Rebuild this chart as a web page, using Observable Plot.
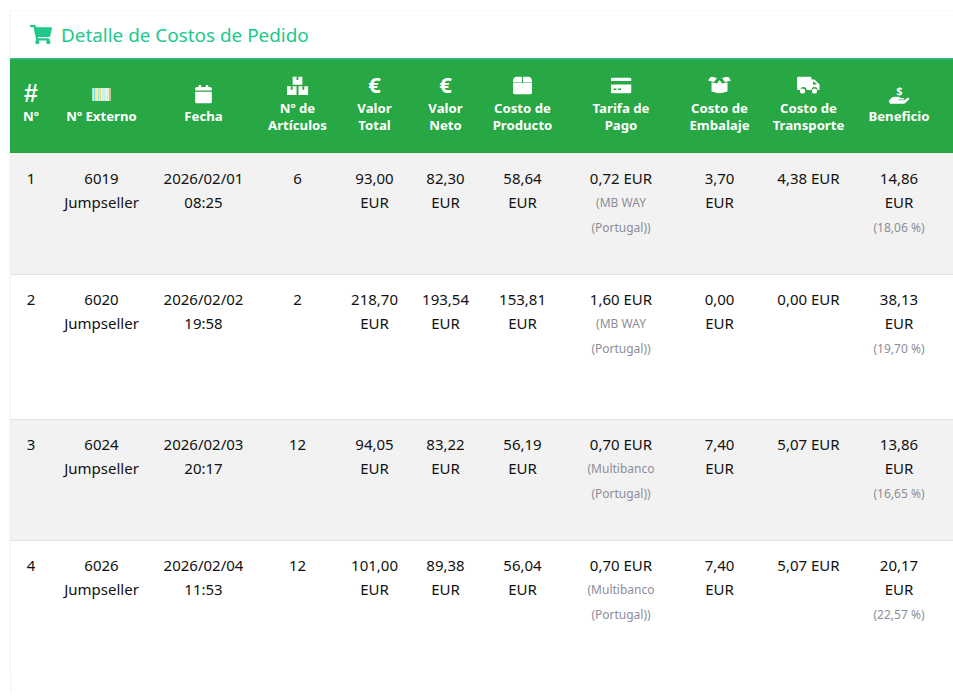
<!DOCTYPE html>
<html><head><meta charset="utf-8">
<script src="https://cdn.jsdelivr.net/npm/d3@7"></script>
<script src="https://cdn.jsdelivr.net/npm/@observablehq/plot@0.6"></script>
<style>html,body{margin:0;padding:0;background:#fff}svg{display:block}</style>
</head><body><div id="chart"></div>
<script>
const title = "Detalle de Costos de Pedido";
const headers = [["Nº"],["Nº Externo"],["Fecha"],["Nº de","Artículos"],["Valor","Total"],["Valor","Neto"],["Costo de","Producto"],["Tarifa de","Pago"],["Costo de","Embalaje"],["Costo de","Transporte"],["Beneficio"]];
const rowNumbers = ["1","2","3","4"];
const externalNos = [["6019","Jumpseller"],["6020","Jumpseller"],["6024","Jumpseller"],["6026","Jumpseller"]];
const dates = [["2026/02/01","08:25"],["2026/02/02","19:58"],["2026/02/03","20:17"],["2026/02/04","11:53"]];
const articles = ["6","2","12","12"];
const totals = ["93,00","218,70","94,05","101,00"];
const nets = ["82,30","193,54","83,22","89,38"];
const products = ["58,64","153,81","56,19","56,04"];
const fees = ["0,72 EUR","1,60 EUR","0,70 EUR","0,70 EUR"];
const feeMethods = [["(MB WAY","(Portugal))"],["(MB WAY","(Portugal))"],["(Multibanco","(Portugal))"],["(Multibanco","(Portugal))"]];
const packing = ["3,70","0,00","7,40","7,40"];
const shipping = ["4,38 EUR","0,00 EUR","5,07 EUR","5,07 EUR"];
const profits = ["14,86","38,13","13,86","20,17"];
const margins = ["(18,06 %)","(19,70 %)","(16,65 %)","(22,57 %)"];

const font = '"Noto Sans", sans-serif';
const svgUri = (vb, body) => "data:image/svg+xml," + encodeURIComponent(`<svg xmlns="http://www.w3.org/2000/svg" viewBox="${vb}">${body}</svg>`);
const cartPath = "M528.12 301.319l47.273-208C578.806 78.301 567.391 64 551.99 64H159.208l-9.166-44.81C147.758 8.021 137.93 0 126.529 0H24C10.745 0 0 10.745 0 24v16c0 13.255 10.745 24 24 24h69.883l70.248 343.435C147.325 417.1 136 435.222 136 456c0 30.928 25.072 56 56 56s56-25.072 56-56c0-15.674-6.447-29.835-16.824-40h209.647C430.447 426.165 424 440.326 424 456c0 30.928 25.072 56 56 56s56-25.072 56-56c0-22.172-12.888-41.332-31.579-50.405l5.517-24.276c3.413-15.018-8.002-29.319-23.403-29.319H218.117l-6.545-32h293.145c11.206 0 20.92-7.754 23.403-18.681z";
const calendarPath = "M12 192h424c6.6 0 12 5.4 12 12v260c0 26.5-21.5 48-48 48H48c-26.5 0-48-21.5-48-48V204c0-6.6 5.4-12 12-12zm436-44v-36c0-26.5-21.5-48-48-48h-48V12c0-6.6-5.4-12-12-12h-40c-6.6 0-12 5.4-12 12v52H160V12c0-6.6-5.4-12-12-12h-40c-6.6 0-12 5.4-12 12v52H48C21.5 64 0 85.5 0 112v36c0 6.6 5.4 12 12 12h424c6.6 0 12-5.4 12-12z";
const barColors = ["#a8f0c0","#66e0e0","#ffe88a","#8fe6f0","#f6d860","#c8f4f4","#a0e8f0","#d8f4d0","#ffe0a0","#f0b060"];
const barcodeBody = `<rect width="20" height="14" fill="#fff"/>` + barColors.map((c,i)=>`<rect x="${i*2}" y="0" width="1.5" height="14" fill="${c}"/>`).join("");
const icons = [
  {col:1,row:0,w:18.5,h:13.5,top:28.8,src:svgUri("0 0 20 14",barcodeBody)},
  {col:2,row:0,w:17,h:19,top:25.5,src:svgUri("0 0 448 512",`<path fill="#fff" d="${calendarPath}"/>`)},
  {col:3,row:0,w:22,h:18.5,top:17.5,src:svgUri("0 0 22 19",`<path fill="#fff" d="M6 0h10v8.5H6zM0 10h10v9H0zM12 10h10v9H12z"/><path fill="#28a745" d="M10 0h2v3.5h-2zM4 10h2v3.5H4zM16 10h2v3.5h-2z"/>`)},
  {col:6,row:0,w:19,h:18,top:17.5,src:svgUri("0 0 19 18",`<path fill="#fff" d="M3 0h6v6H0V3.4Q0.8 1 3 0zM10 0H16q2.2 1 3 3.4V6h-9zM0 6.6h19V16q0 2-2 2H2q-2 0-2-2z"/>`)},
  {col:7,row:0,w:21,h:16,top:18.5,src:svgUri("0 0 21 16",`<path fill="#fff" d="M2 0h17q2 0 2 2v1.5H0V2q0-2 2-2zM0 7h21v7q0 2-2 2H2q-2 0-2-2z"/><path fill="#28a745" d="M3 11h3v1.5H3zM7.5 11h3v1.5h-3z"/>`)},
  {col:8,row:0,w:23,h:17,top:17.5,src:svgUri("0 0 23 17",`<path fill="#fff" d="M3 0l6 1.5-3 4L0 4zM20 0l-6 1.5 3 4 6-1.5zM11.5 3.5l-2.5 3.5-5.5-1.2V15l8 2 8-2V5.8L14 7z"/>`)},
  {col:9,row:0,w:23,h:18,top:17.5,src:svgUri("0 0 23 18",`<path fill="#fff" d="M1.5 0H13q1.5 0 1.5 1.5V3h3l5 5v5.5h-2a3 3 0 0 0-6 0h-5a3 3 0 0 0-6 0H1.5Q0 13.5 0 12V1.5Q0 0 1.5 0z"/><circle cx="5.5" cy="14.5" r="2.6" fill="#fff"/><circle cx="17.5" cy="14.5" r="2.6" fill="#fff"/><path fill="#28a745" d="M16 5h1l3 3h-4z"/>`)},
  {col:10,row:0,w:21,h:18.5,top:26.5,src:svgUri("0 0 21 18.5",`<path fill="#fff" d="M0 15.5l3.5-3.5q1-.8 2.5-.8h4l2.5 1.2h2q1.5.2 1 1.6H10v.8h5.5l3-2.2q1.8-1 2.4.4.2.6-.5 1.3l-4 3.4q-.6.5-1.4.5H4l-2 .5z"/><text x="11" y="9" font-family="Noto Sans, sans-serif" font-weight="700" font-size="11" fill="#fff" text-anchor="middle">$</text>`)}
];
const cart = [{col:-1,row:0,src:svgUri("0 0 576 512",`<path fill="#20c98b" d="${cartPath}"/>`)}];

const hdr = [];
headers.forEach((lines,col)=>{
  lines.forEach((t,i)=>{
    hdr.push({col,row:0,t,off:lines.length===2?(i===0?49.5:66.5):57.5});
  });
});
const glyphs = [{col:0,t:"#",off:34.5,size:25,family:'"Liberation Sans", sans-serif'},{col:4,t:"€",off:26.5,size:22,family:font},{col:5,t:"€",off:26.5,size:22,family:font}];

const cells = [];
const addCol = (col,arr) => arr.forEach((v,r)=>{
  [].concat(v).forEach((t,line)=>cells.push({col,row:r+1,t,line}));
});
addCol(0,rowNumbers);
addCol(1,externalNos);
addCol(2,dates);
addCol(3,articles);
const eur = a => a.map(v=>[v,"EUR"]);
addCol(4,eur(totals));
addCol(5,eur(nets));
addCol(6,eur(products));
addCol(7,fees);
addCol(8,eur(packing));
addCol(9,shipping);
addCol(10,eur(profits));
const small = [];
feeMethods.forEach((a,r)=>a.forEach((t,i)=>small.push({col:7,row:r+1,t,line:i+1})));
margins.forEach((t,r)=>small.push({col:10,row:r+1,t,line:2}));

const stripes = [{row:1},{row:3}];
const separators = [2,3,4];

const lineDy = [25.5,49.5,74.5];
const chart = Plot.plot({
  width:953,height:699,margin:0,
  style:{background:"#fff",fontFamily:font,overflow:"visible"},
  x:{type:"linear",axis:null,domain:[-1,0,1,2,3,4,5,6,7,8,9,10,11],range:[10,30.5,101,203,297,374,445,522,620.5,719,808,898.5,953]},
  y:{type:"linear",axis:null,domain:[0,1,2,3,4,5],range:[58.5,153,274,419,540,676]},
  marks:[
    Plot.ruleX([-1],{y1:-0.51,y2:5,stroke:"#f1f1f1",strokeWidth:1,dx:-0.5}),
    Plot.ruleX([-1],{y1:5,y2:5.125,stroke:"#f8f8f8",strokeWidth:2.5,dx:0.5}),
    Plot.ruleY([-0.51],{x1:-1,x2:11,stroke:"#f7f7f7",strokeWidth:1}),
    Plot.rect([{}],{x1:-1,x2:11,y1:0,y2:1,fill:"#28a745"}),
    Plot.ruleY([0],{x1:-1,x2:11,stroke:"#1cb47f",strokeWidth:1.6}),
    Plot.ruleY([1],{x1:-1,x2:11,stroke:"#1e7e34",strokeWidth:1.5}),
    Plot.rect(stripes,{x1:-1,x2:11,y1:"row",y2:d=>d.row+1,fill:"#f2f2f2"}),
    Plot.ruleY(separators,{x1:-1,x2:11,stroke:"#e3e3e3",strokeWidth:1}),
    Plot.image(cart,{x:"col",y:"row",src:"src",width:22,height:20,dx:30.5,dy:-24.5}),
    Plot.text([title],{x:-1,y:0,text:d=>d,textAnchor:"start",dx:50.5,dy:-23.5,fontSize:18.9,fill:"#20c98b"}),
    ...icons.map(ic=>Plot.image([ic],{x:"col",y:"row",src:"src",width:ic.w,height:ic.h,dy:ic.top+ic.h/2})),
    ...glyphs.map(g=>Plot.text([g],{x:"col",y:0,text:"t",dy:g.off,fontSize:g.size,fontWeight:700,fontFamily:g.family,fill:"#fff"})),
    ...[49.5,57.5,66.5].map(o=>Plot.text(hdr.filter(d=>d.off===o),{x:"col",y:"row",text:"t",dy:o,fontSize:13.2,fontWeight:700,fill:"#fff"})),
    ...[0,1].map(l=>Plot.text(cells.filter(d=>d.line===l),{x:"col",y:"row",text:"t",dy:lineDy[l],fontSize:15,fill:"#111"})),
    ...[1,2].map(l=>Plot.text(small.filter(d=>d.line===l),{x:"col",y:"row",text:"t",dy:lineDy[l],fontSize:12,fill:"#8d8d99"}))
  ]
});
document.getElementById("chart").append(chart);
</script></body></html>
